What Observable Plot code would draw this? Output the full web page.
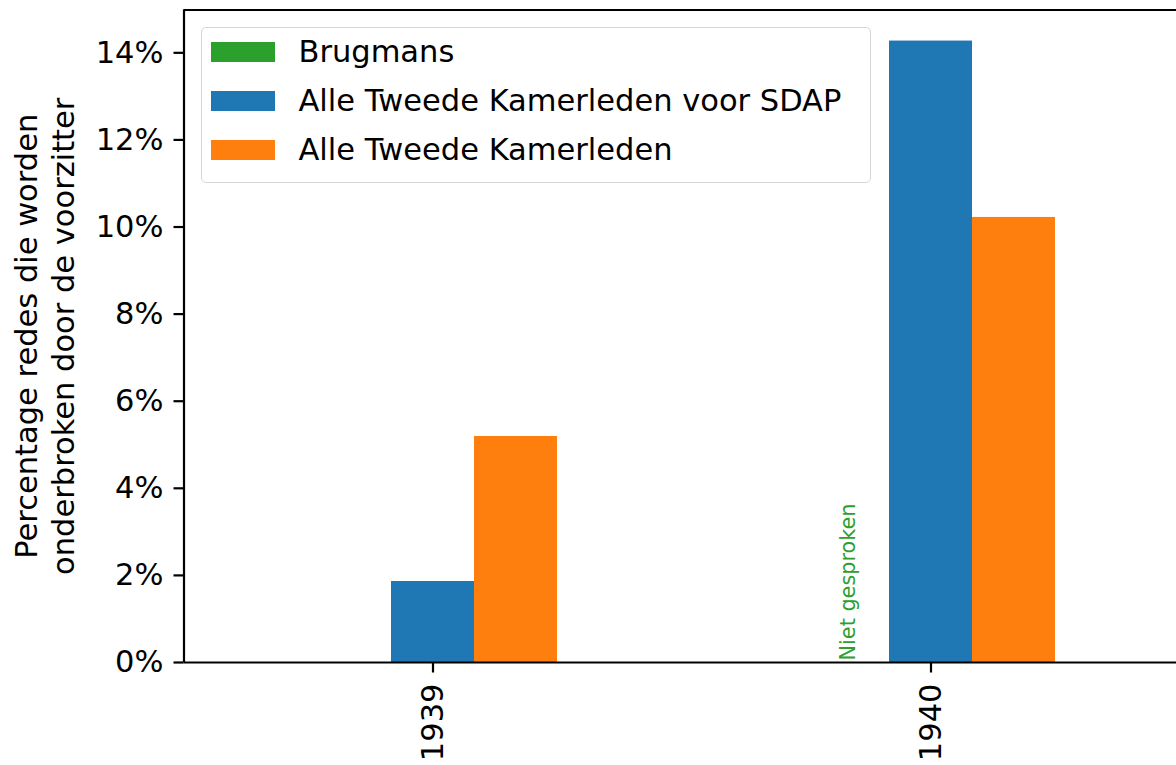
<!DOCTYPE html>
<html><head><meta charset="utf-8">
<script src="https://cdn.jsdelivr.net/npm/d3@7"></script>
<script src="https://cdn.jsdelivr.net/npm/@observablehq/plot@0.6"></script>
<style>
body{margin:0;background:#fff;font-family:"DejaVu Sans",sans-serif;}
#wrap{position:relative;width:1176px;height:765px;overflow:hidden;}
#legend{position:absolute;left:201px;top:27px;width:670px;height:156px;border:1.5px solid #d6d6d6;border-radius:5px;background:rgba(255,255,255,0.8);box-sizing:border-box;}
.sw{position:absolute;left:9px;width:64px;height:20px;}
.lab{position:absolute;left:96.5px;font-size:30.5px;line-height:1;white-space:nowrap;color:#000;font-family:"DejaVu Sans",sans-serif;}
</style></head>
<body><div id="wrap"><div id="chart"></div><div id="legend"></div></div>
<script>
const years = ["1939", "1940"];
const series = ["Brugmans", "Alle Tweede Kamerleden voor SDAP", "Alle Tweede Kamerleden"];
const colors = ["#2ca02c", "#1f77b4", "#ff7f0e"];
const brugmans = [0, null];
const sdap = [1.86, 14.27];
const alleKamerleden = [5.19, 10.22];
const yTicks = [0, 2, 4, 6, 8, 10, 12, 14];
const yLabel = "Percentage redes die worden\nonderbroken door de voorzitter";
const missingLabel = "Niet gesproken";

const seriesValues = [brugmans, sdap, alleKamerleden];
const rows = [];
years.forEach((y, yi) => series.forEach((s, sj) => rows.push({year: y, yi, series: s, sj, value: seriesValues[sj][yi]})));

const groupWidth = 0.5;
const barW = groupWidth / series.length;
const left = d => d.yi - groupWidth / 2 + d.sj * barW;
const ymax = d3.max(rows, d => d.value) * 1.05;
const fs = 30.5;

const chart = Plot.plot({
  width: 1176, height: 765,
  marginLeft: 183.5, marginRight: -3.5, marginTop: 9.5, marginBottom: 103,
  style: {fontFamily: "DejaVu Sans", fontSize: fs + "px", color: "#000", background: "white", overflow: "hidden"},
  x: {domain: [-0.5, 1.5]},
  y: {domain: [0, ymax]},
  color: {domain: series, range: colors},
  marks: [
    Plot.rectY(rows.filter(d => d.value != null && d.value > 0), {x1: left, x2: d => left(d) + barW, y: "value", fill: "series"}),
    Plot.text(rows.filter(d => d.value == null), {x: d => left(d) + barW / 2, y: 0, text: () => missingLabel, rotate: -90, textAnchor: "start", fill: colors[0], fontSize: 20.8, dy: -2}),
    Plot.axisY({ticks: yTicks, tickFormat: d => d + "%", tickSize: 10, tickPadding: 10.5, label: null, fontSize: fs, strokeWidth: 2.2, stroke: "#000"}),
    Plot.axisX({ticks: [0, 1], tickFormat: i => years[i], tickRotate: -90, tickSize: 10.5, tickPadding: 10.5, label: null, fontSize: fs, strokeWidth: 2.2, stroke: "#000"}),
    Plot.text([yLabel], {frameAnchor: "left", rotate: -90, dx: -140.5, lineHeight: 1.2, fontSize: fs, textAnchor: "middle", fill: "#000"}),
    Plot.ruleX([-0.5], {stroke: "#000", strokeWidth: 2.2}),
    Plot.ruleY([0], {stroke: "#000", strokeWidth: 2.2}),
    Plot.ruleY([ymax], {stroke: "#000", strokeWidth: 2.2})
  ]
});
document.getElementById("chart").appendChild(chart);

const legend = document.getElementById("legend");
series.forEach((s, i) => {
  const sw = document.createElement("div");
  sw.className = "sw";
  sw.style.top = (14.2 + i * 49) + "px";
  sw.style.background = colors[i];
  legend.appendChild(sw);
  const lab = document.createElement("div");
  lab.className = "lab";
  lab.style.top = (9 + i * 49) + "px";
  lab.textContent = s;
  legend.appendChild(lab);
});
</script>
</body></html>
